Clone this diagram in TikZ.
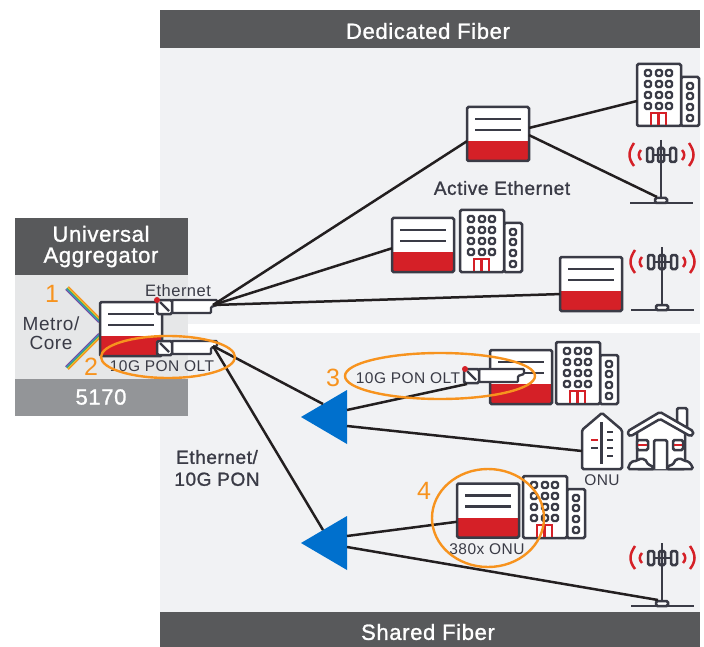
\documentclass[tikz,border=0pt]{standalone}
\usepackage{fontspec}
\setmainfont{Liberation Sans}
\newfontfamily\labelfont[LetterSpace=3]{Liberation Sans}
\newfontfamily\headfont[LetterSpace=3,FakeBold=1.2]{Liberation Sans}
\usetikzlibrary{positioning}
\definecolor{ink}{HTML}{3A3B46}
\definecolor{wire}{HTML}{231F20}
\definecolor{banner}{HTML}{58595B}
\definecolor{midgray}{HTML}{939598}
\definecolor{panel}{HTML}{F1F2F4}
\definecolor{bodygray}{HTML}{E6E7E8}
\definecolor{alarm}{HTML}{D52027}
\definecolor{ringorange}{HTML}{F7931E}
\definecolor{splitblue}{HTML}{0070CD}
\definecolor{strandA}{HTML}{F7941D}
\definecolor{strandB}{HTML}{E6C229}
\definecolor{strandC}{HTML}{39A96B}
\definecolor{strandD}{HTML}{2E86C8}
\definecolor{strandE}{HTML}{7B4B9E}
\tikzset{
    fiber/.style={wire, line width=2.5pt},
    ring/.style={ringorange, line width=2.4pt},
    outline/.style={ink, line width=2.5pt, rounded corners=1.5pt},
    headtext/.style={white, font=\headfont\fontsize{22}{21}\selectfont, align=center},
    smalltext/.style={ink, font=\labelfont\fontsize{15.5}{17}\selectfont},
    boldtext/.style={ink, font=\headfont\fontsize{19}{22}\selectfont, align=center},
    numtext/.style={ringorange, font=\fontsize{25}{27}\selectfont},
    rack/.pic={
        \fill[white] (-31,-27) rectangle (31,27);
        \fill[alarm] (-31,7) rectangle (31,27);
        \draw[ink, line width=2.8pt] (-23,-15) -- (23,-15) (-23,-4) -- (23,-4);
        \node[draw=ink, line width=2.5pt, rounded corners=1.5pt, minimum width=62pt, minimum height=54pt, inner sep=0pt, outer sep=0pt] (-box) at (0,0) {};
    },
    office/.pic={
        \draw[outline, fill=white] (44,0) rectangle (62,-49);
        \draw[outline, fill=white] (0,0) rectangle (44,-62);
        \foreach \wx in {11,22,32}
            \foreach \wy in {-53,-42,-31,-20}
                \draw[ink, line width=2.3pt, rounded corners=1.5pt] (\wx-3,\wy-3) rectangle (\wx+3,\wy+3);
        \foreach \wy in {-40,-30,-19,-8}
            \draw[ink, line width=2.3pt, rounded corners=1.5pt] (50,\wy-3) rectangle (56,\wy+3);
        \draw[alarm, line width=2.8pt] (14,-1) -- (14,-13) -- (29,-13) -- (29,-1) (21.5,-13) -- (21.5,-1);
        \coordinate (-west) at (0,-25);
    },
    tower/.pic={
        \draw[ink, line width=2.6pt] (0,-63) -- (0,-4);
        \draw[ink, line width=2.6pt] (-31,0) -- (32,0);
        \draw[outline, fill=white] (-6,-5) rectangle (6,0);
        \draw[outline] (-14,-55) rectangle (-8,-41);
        \draw[outline] (-3,-55) rectangle (3,-41);
        \draw[outline] (9,-55) rectangle (15,-41);
        \draw[ink, line width=2.5pt] (-8,-48) -- (9,-48);
        \draw[alarm, line width=2.5pt]
            (-27,-60) .. controls (-33,-51) and (-33,-45) .. (-27,-37)
            (-20,-53) .. controls (-23,-50) and (-23,-46) .. (-20,-43)
            (28,-60) .. controls (34,-51) and (34,-45) .. (28,-37)
            (21,-53) .. controls (24,-50) and (24,-46) .. (21,-43);
        \coordinate (-foot) at (-4,-6);
    },
    sfp/.pic={
        \draw[ink, line width=2.3pt, fill=white, rounded corners=1pt] (15,0) -- (60,0) -- (60,5) -- (54,7) -- (54,13) -- (15,13) -- cycle;
        \draw[outline, fill=white] (0,0) rectangle (15,14);
        \draw[ink, line width=2.3pt] (3,2) -- (12,11);
        \coordinate (-port) at (56,5);
        \coordinate (-in) at (3,15);
    },
    splitter/.pic={
        \fill[splitblue] (0,0) -- (46,-27) -- (46,27) -- cycle;
        \coordinate (-in) at (22,-13);
        \coordinate (-upper) at (46,-7);
        \coordinate (-lower) at (46,9);
        \coordinate (-low) at (46,4);
    },
}

\begin{document}
\begin{tikzpicture}[x=1pt, y=-1pt]
    \useasboundingbox (0,0) rectangle (704,647);
    % panels and banners
    \fill[panel] (160,48) rectangle (700,324);
    \fill[panel] (160,333) rectangle (700,612);
    \fill[banner] (160,10) rectangle (700,48);
    \fill[banner] (160,612) rectangle (700,647);
    \fill[bodygray] (15,275) rectangle (188,379);
    \fill[banner] (15,218) rectangle (188,275);
    \fill[midgray] (15,379) rectangle (188,416);
    \node[headtext] (lblDedicated) at (428,31) {Dedicated Fiber};
    \node[headtext] (lblShared) at (428,632) {Shared Fiber};
    \node[headtext] (lblUniversal) at (101,246.5) {Universal\\Aggregator};
    \node[headtext] (lbl5170) at (101,397) {5170};
    % rainbow fibers
    \foreach \d/\c in {-2/strandE, -1/strandD, 0/strandC, 1/strandB, 2/strandA}{
        \draw[\c, line width=1.2pt] (67+0.7*\d,288-0.7*\d) -- (100+0.7*\d,321-0.7*\d);
        \draw[\c, line width=1.2pt] (67+0.7*\d,368+0.7*\d) -- (100+0.7*\d,335+0.7*\d);
    }
    % aggregator
    \pic (rkAgg) at (131,329) {rack};
    \pic (sfpEth) at (157,300) {sfp};
    \pic (sfpPon) at (157,341) {sfp};
    \fill[alarm] (157,300) circle (3);
    % dedicated side
    \pic (rkActive) at (498,134) {rack};
    \pic (rkOffice) at (423,245) {rack};
    \pic (rkCell) at (591,284) {rack};
    \pic (bldTop) at (637,126) {office};
    \pic (bldMid) at (460,272) {office};
    \pic (twrTop) at (661,203) {tower};
    \pic (twrMid) at (662,310) {tower};
    \draw[fiber] (sfpEth-port) -- (rkActive-box.193);
    \draw[fiber] (sfpEth-port) -- (rkOffice-box.186);
    \draw[fiber] (sfpEth-port) -- (rkCell-box.198);
    \draw[fiber] (rkActive-box.11) -- (bldTop-west);
    \draw[fiber] (rkActive-box.-2) -- (twrTop-foot);
    % shared side
    \pic (rkOlt) at (521,377) {rack};
    \pic (bldOlt) at (556,404) {office};
    \pic (sfpOlt) at (464,369) {sfp};
    \fill[alarm] (465,369) circle (3);
    \pic (rkOnu) at (488,510.5) {rack};
    \pic (bldOnu) at (523,538) {office};
    \pic (twrLow) at (662,606) {tower};
    \pic (spTop) at (301,417) {splitter};
    \pic (spLow) at (301,543) {splitter};
    % onu building
    \draw[outline, fill=white] (582,469) -- (582,430) -- (602,413) -- (622,430) -- (622,469) -- cycle;
    \draw[ink, line width=2.5pt] (601.5,422) -- (601.5,464);
    \foreach \ry in {432,440,448,456}
        \draw[ink, line width=2.5pt] (607,\ry) -- (613,\ry);
    \draw[alarm, line width=2.5pt] (591,440) -- (598,440);
    \draw[ink, line width=2.5pt] (591,448) -- (598,448);
    \coordinate (onuWest) at (582,451);
    % house
    \draw[outline, fill=white] (677,425) -- (677,408) -- (687,408) -- (687,432) -- cycle;
    \draw[outline, fill=white] (637,430) -- (660,417) -- (685,430) -- (685,469) -- (637,469) -- cycle;
    \draw[outline, fill=white] (628,435) -- (628,431) -- (660,412) -- (693,431) -- (693,435) -- (690,436) -- (660,419) -- (631,436) -- cycle;
    \draw[outline, fill=white] (654,469) -- (654,440) -- (667,440) -- (667,469);
    \draw[outline, fill=white] (637,440) rectangle (648,450);
    \draw[outline, fill=white] (673,440) rectangle (683,450);
    \draw[alarm, line width=2.5pt] (638,445) -- (647,445) (674,445) -- (682,445);
    \draw[outline, fill=white] (628,469) .. controls (630,461) and (634,461) .. (637,461) .. controls (640,458) and (646,458) .. (648,465) .. controls (651,465) and (653,467) .. (654,469) -- cycle;
    \draw[outline, fill=white] (667,469) .. controls (668,466) and (670,465) .. (673,465) .. controls (675,458) and (681,458) .. (684,461) .. controls (688,461) and (691,463) .. (693,469) -- cycle;
    % shared fiber runs
    \draw[fiber] (sfpPon-port) -- (spTop-in);
    \draw[fiber] (sfpPon-port) -- (spLow-in);
    \draw[fiber] (spTop-upper) -- (sfpOlt-in);
    \draw[fiber] (spTop-lower) -- (onuWest);
    \draw[fiber] (spLow-upper) -- (rkOnu-box.200);
    \draw[fiber] (spLow-low) -- (twrLow-foot);
    % labels
    \node[smalltext, font=\labelfont\fontsize{16.5}{18}\selectfont] (lblEth) at (178,291) {Ethernet};
    \node[smalltext, font=\labelfont\fontsize{19}{19}\selectfont, align=center] (lblMetro) at (51,333.5) {Metro/\\Core};
    \node[smalltext] (lblPonA) at (162,366) {10G PON OLT};
    \node[smalltext] (lblPonB) at (408,378) {10G PON OLT};
    \node[smalltext] (lblOnu) at (602,480) {ONU};
    \node[smalltext] (lbl380) at (487,549) {380x ONU};
    \node[boldtext] (lblActive) at (502,188) {Active Ethernet};
    \node[boldtext] (lblMixed) at (217,468) {Ethernet/\\10G PON};
    \node[numtext] (numA) at (52,294) {1};
    \node[numtext] (numB) at (91,367) {2};
    \node[numtext] (numC) at (333,378) {3};
    \node[numtext] (numD) at (424,491) {4};
    % rings
    \draw[ring] (168,357) ellipse [x radius=67, y radius=21];
    \draw[ring] (440,376) ellipse [x radius=95, y radius=23];
    \draw[ring] (488,518) ellipse [x radius=56, y radius=49];
\end{tikzpicture}
\end{document}
